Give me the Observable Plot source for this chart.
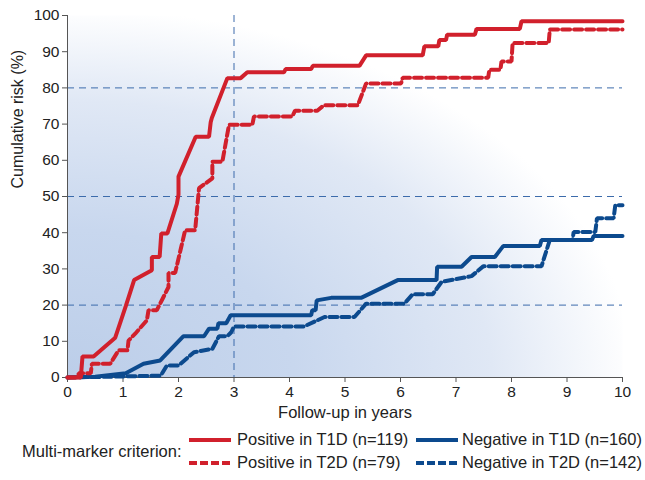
<!DOCTYPE html>
<html>
<head>
<meta charset="utf-8">
<script src="https://cdn.jsdelivr.net/npm/d3@7"></script>
<script src="https://cdn.jsdelivr.net/npm/@observablehq/plot@0.6"></script>
<style>
  body { margin: 0; background: #fff; font-family: "Liberation Sans", Arial, sans-serif; color: #222; }
  #wrap { width: 645px; }
  #legend { position: relative; width: 645px; height: 55px; font-size: 16.5px; color: #222; }
  #legend .t { position: absolute; white-space: nowrap; line-height: 19px; }
  #legend svg { position: absolute; }
</style>
</head>
<body>
<div id="wrap">
  <div id="chart"></div>
  <div id="legend"></div>
</div>
<script>
// Positive in T1D (n=119)
const posT1DYears = [0, 0.24, 0.27, 0.47, 0.86, 1.05, 1.2, 1.52, 1.52, 1.66, 1.69, 1.8, 1.97, 2.0, 2.0, 2.31, 2.55, 2.58, 2.6, 2.88, 3.12, 3.24, 3.9, 3.93, 4.39, 4.42, 5.26, 5.38, 6.4, 6.43, 6.68, 6.7, 6.82, 6.84, 7.34, 7.37, 8.15, 8.18, 10];
const posT1DRisk  = [0, 0, 5.8, 5.8, 11, 19.7, 26.9, 29.6, 33.3, 33.3, 39.8, 39.8, 48, 50.5, 55.5, 66.5, 66.5, 70.5, 71.7, 82.7, 82.7, 84.3, 84.3, 85.2, 85.2, 86.1, 86.1, 89, 89, 91.5, 91.5, 93.2, 93.2, 94.7, 94.7, 96.3, 96.3, 98.4, 98.4];
// Positive in T2D (n=79)
const posT2DYears = [0, 0.2, 0.2, 0.42, 0.44, 0.77, 0.92, 1.08, 1.1, 1.22, 1.43, 1.46, 1.61, 1.82, 1.82, 1.94, 2.12, 2.3, 2.35, 2.37, 2.61, 2.61, 2.79, 2.91, 3.33, 3.36, 4.05, 4.1, 4.5, 4.62, 5.23, 5.38, 6.01, 6.04, 7.58, 7.6, 7.8, 7.82, 8.0, 8.02, 8.67, 8.69, 10];
const posT2DRisk  = [0, 0, 1.2, 1.2, 3.8, 3.8, 7.5, 7.5, 10.2, 12.1, 15.8, 18.6, 18.6, 25, 28.9, 28.9, 40.7, 40.7, 49, 52.3, 55, 59.6, 59.6, 69.8, 69.8, 72.1, 72.1, 73.7, 73.7, 75.2, 75.2, 81.2, 81.2, 82.8, 82.8, 85, 85, 87.3, 87.3, 92.4, 92.4, 96.1, 96.1];
// Negative in T1D (n=160)
const negT1DYears = [0, 0.5, 1.05, 1.37, 1.67, 2.09, 2.46, 2.55, 2.7, 2.72, 2.86, 2.94, 4.39, 4.41, 4.47, 4.49, 4.75, 5.29, 5.95, 6.65, 6.66, 7.1, 7.28, 7.7, 7.85, 8.51, 8.54, 9.45, 9.48, 10];
const negT1DRisk  = [0, 0.2, 1.2, 3.8, 4.7, 11.4, 11.4, 13.5, 13.5, 15, 15, 17.2, 17.2, 18.6, 18.6, 21.3, 22, 22, 26.9, 26.9, 30.6, 30.6, 33.3, 33.3, 36.3, 36.3, 38, 38, 39.1, 39.1];
// Negative in T2D (n=142)
const negT2DYears = [0, 1.68, 1.79, 2.0, 2.28, 2.61, 2.73, 2.88, 2.95, 3.0, 4.26, 4.63, 5.17, 5.38, 6.07, 6.22, 6.58, 6.74, 7.28, 7.49, 8.54, 8.69, 9.1, 9.12, 9.51, 9.54, 9.84, 9.87, 10];
const negT2DRisk  = [0, 0.5, 3.3, 3.3, 7.0, 7.9, 11.4, 11.4, 12.5, 14.1, 14.1, 16.7, 16.7, 20.4, 20.4, 23, 23, 26.4, 28, 30.7, 30.7, 38, 38, 40.2, 40.2, 44, 44, 47.6, 47.6];

const xTicks = [0, 1, 2, 3, 4, 5, 6, 7, 8, 9, 10];
const yTicks = [0, 10, 20, 30, 40, 50, 60, 70, 80, 90, 100];
const refRisk = [20, 50, 80];
const refYear = [3];

const xTitle = "Follow-up in years";
const yTitle = "Cumulative risk (%)";
const legendTitle = "Multi-marker criterion:";
const seriesLabels = ["Positive in T1D (n=119)", "Positive in T2D (n=79)", "Negative in T1D (n=160)", "Negative in T2D (n=142)"];
const RED = "#d1202c", BLUE = "#0c4a8e", GRID = "#3c6bab";

const toRows = (xs, ys) => xs.map((x, i) => ({year: x, risk: ys[i]}));
const rowsPosT1D = toRows(posT1DYears, posT1DRisk);
const rowsPosT2D = toRows(posT2DYears, posT2DRisk);
const rowsNegT1D = toRows(negT1DYears, negT1DRisk);
const rowsNegT2D = toRows(negT2DYears, negT2DRisk);

const gradientDefs = () => {
  const g = d3.create("svg:defs");
  const rg = g.append("radialGradient").attr("id", "bgGrad")
    .attr("cx", 0).attr("cy", 1).attr("r", 1.02).attr("fx", 0).attr("fy", 1);
  rg.append("stop").attr("offset", "0%").attr("stop-color", "#bccee9");
  rg.append("stop").attr("offset", "40%").attr("stop-color", "#c8d7ee");
  rg.append("stop").attr("offset", "75%").attr("stop-color", "#e0e8f5");
  rg.append("stop").attr("offset", "100%").attr("stop-color", "#ffffff");
  return g.node();
};

const chart = Plot.plot({
  width: 645,
  height: 425,
  marginLeft: 67,
  marginRight: 23,
  marginTop: 15,
  marginBottom: 48,
  style: {fontFamily: "'Liberation Sans', Arial, sans-serif", fontSize: "15px", color: "#222", background: "#fff"},
  x: {domain: [0, 10]},
  y: {domain: [0, 100]},
  marks: [
    gradientDefs,
    Plot.frame({fill: "url(#bgGrad)", stroke: "none"}),
    Plot.ruleY(refRisk, {stroke: GRID, strokeWidth: 1, strokeDasharray: "7,5"}),
    Plot.ruleX(refYear, {stroke: GRID, strokeWidth: 1, strokeDasharray: "7,5"}),
    Plot.ruleX([0], {stroke: "#555", strokeWidth: 1}),
    Plot.ruleY([0], {stroke: "#555", strokeWidth: 1}),
    Plot.axisX({ticks: xTicks, tickSize: 5, tickPadding: 3, stroke: "#555", label: null, fontSize: 15.5}),
    Plot.axisY({ticks: yTicks, tickSize: 5, tickPadding: 3, stroke: "#555", label: null, fontSize: 15.5}),
    Plot.text([xTitle], {frameAnchor: "bottom", dy: 40, fontSize: 16.5, fill: "#222"}),
    Plot.text([yTitle], {frameAnchor: "left", dx: -50, dy: -8, rotate: -90, fontSize: 16, fill: "#222"}),
    Plot.line(rowsNegT2D, {x: "year", y: "risk", stroke: BLUE, strokeWidth: 4, strokeDasharray: "8,4", strokeLinejoin: "miter"}),
    Plot.line(rowsNegT1D, {x: "year", y: "risk", stroke: BLUE, strokeWidth: 4, strokeLinejoin: "miter"}),
    Plot.line(rowsPosT2D, {x: "year", y: "risk", stroke: RED, strokeWidth: 4, strokeDasharray: "8,4", strokeLinejoin: "miter"}),
    Plot.line(rowsPosT1D, {x: "year", y: "risk", stroke: RED, strokeWidth: 4, strokeLinejoin: "miter"})
  ]
});
document.getElementById("chart").appendChild(chart);

// Legend
const legend = document.getElementById("legend");
function addText(txt, left, top) {
  const d = document.createElement("div");
  d.className = "t"; d.textContent = txt;
  d.style.left = left + "px"; d.style.top = top + "px";
  legend.appendChild(d);
}
function addSwatch(color, dashed, left, top) {
  const s = d3.create("svg").attr("width", 42).attr("height", 8)
    .style("left", left + "px").style("top", top + "px");
  s.append("line").attr("x1", 0).attr("x2", 42).attr("y1", 4).attr("y2", 4)
    .attr("stroke", color).attr("stroke-width", 4)
    .attr("stroke-dasharray", dashed ? "8,3" : null);
  legend.appendChild(s.node());
}
addText(legendTitle, 22, 17);
addSwatch(RED, false, 189, 11);
addText(seriesLabels[0], 237, 5);
addSwatch(RED, true, 189, 34);
addText(seriesLabels[1], 237, 28);
addSwatch(BLUE, false, 416, 11);
addText(seriesLabels[2], 462, 5);
addSwatch(BLUE, true, 416, 34);
addText(seriesLabels[3], 462, 28);
</script>
</body>
</html>
